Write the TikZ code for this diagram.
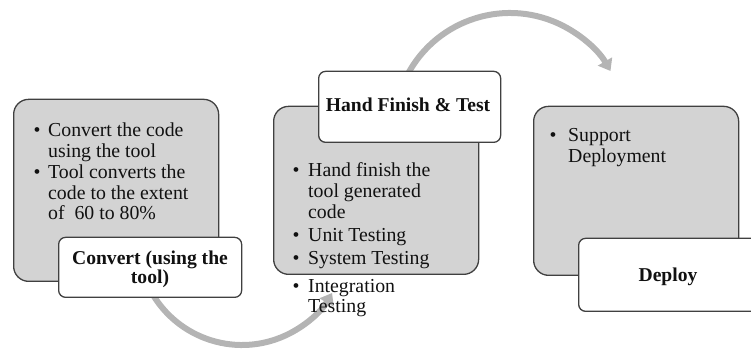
\documentclass[tikz,border=0pt]{standalone}
\usepackage{fontspec}
\setmainfont{Liberation Serif}
\usetikzlibrary{arrows.meta}
\definecolor{panelgray}{HTML}{D3D3D3}
\definecolor{edgegray}{HTML}{404040}
\definecolor{flowgray}{HTML}{B4B4B4}
\definecolor{inkblack}{HTML}{111111}
\begin{document}
\begin{tikzpicture}[x=1pt,y=1pt,
  panel/.style={draw=edgegray, line width=1.3pt, fill=panelgray, rounded corners=15pt,
    anchor=south west, inner sep=0pt},
  tag/.style={draw=edgegray, line width=1.3pt, fill=white, rounded corners=7pt,
    anchor=south west, inner sep=0pt},
  flow/.style={draw=flowgray, line width=6pt, -{Triangle[width=16pt,length=11pt]}},
  txt/.style={anchor=base west, inner sep=0pt, font=\fontsize{19.8}{21}\selectfont, text=inkblack},
  dot/.style={anchor=base, inner sep=0pt, font=\fontsize{19.8}{21}\selectfont, text=inkblack},
  head/.style={anchor=base, inner sep=0pt, font=\fontsize{19.6}{21}\selectfont\bfseries, text=inkblack}]

\useasboundingbox (0,0) rectangle (751,352);
\clip (0,0) rectangle (751,352);

% curved flow arrows between the stages
\coordinate (botc) at (242,111);
\coordinate (topc) at (510,223);
\draw[flow] (botc) ++(205:104) arc[start angle=205, end angle=330, radius=104];
\draw[flow] (topc) ++(155:116) arc[start angle=155, end angle=30, radius=116];

% stage panels
\node[panel, minimum width=205pt, minimum height=182pt] (p1) at (13,70) {};
\node[panel, minimum width=205pt, minimum height=168pt] (p2) at (273,77) {};
\node[panel, minimum width=205pt, minimum height=169pt] (p3) at (533,76) {};

% stage titles
\node[tag, minimum width=183pt, minimum height=60pt] (w1) at (58,54) {};
\node[tag, minimum width=182pt, minimum height=71pt] (w2) at (318,209) {};
\node[tag, minimum width=180pt, minimum height=73pt] (w3) at (578,40) {};

\node[head] (h1a) at (150,87) {Convert (using the};
\node[head] (h1b) at (150,68) {tool)};
\node[head] (h2) at (408,240) {Hand Finish \& Test};
\node[head] (h3) at (668,70) {Deploy};

% stage 1 items
\node[dot] (d1a) at (37,215) {•};
\node[txt] (a1) at (48,215) {Convert the code};
\node[txt] (a2) at (48,194.5) {using the tool};
\node[dot] (d1b) at (37,173) {•};
\node[txt] (a3) at (48,173) {Tool converts the};
\node[txt] (a4) at (48,152.5) {code to the extent};
\node[txt] (a5) at (48,132) {of\ \ 60 to 80\%};

% stage 2 items
\node[dot] (d2a) at (296,175) {•};
\node[txt] (b1) at (308,175) {Hand finish the};
\node[txt] (b2) at (308,154) {tool generated};
\node[txt] (b3) at (308,133) {code};
\node[dot] (d2b) at (296,110) {•};
\node[txt] (b4) at (308,110) {Unit Testing};
\node[dot] (d2c) at (296,87) {•};
\node[txt] (b5) at (308,87) {System Testing};
\node[dot] (d2d) at (296,59) {•};
\node[txt] (b6) at (308,59) {Integration};
\node[txt] (b7) at (308,39) {Testing};

% stage 3 items
\node[dot] (d3a) at (553,210) {•};
\node[txt] (c1) at (568,210) {Support};
\node[txt] (c2) at (568,189) {Deployment};
\end{tikzpicture}
\end{document}
